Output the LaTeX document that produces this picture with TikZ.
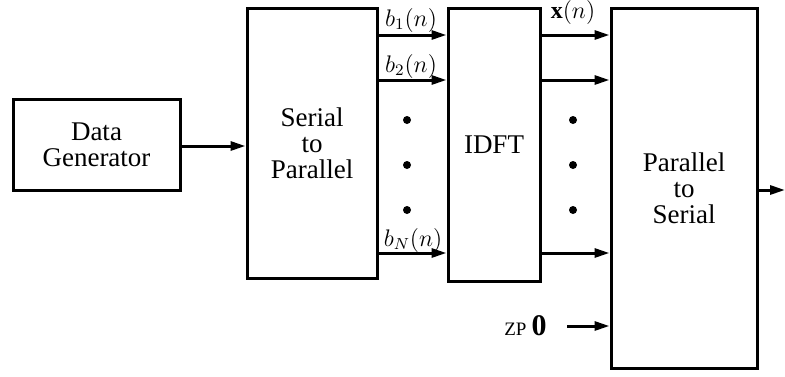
\documentclass[tikz,border=0pt]{standalone}
\usepackage{fontspec}
\setmainfont{Liberation Serif}
\usetikzlibrary{arrows.meta, positioning, calc}
\tikzset{
  every picture/.style={line width=1.5pt},
  block/.style={draw, rectangle, align=center, inner sep=2pt, font=\fontsize{13.5}{13}\selectfont},
  arrow/.style={-{Triangle[length=7.5pt, width=4.5pt]}},
  sig/.style={font=\fontsize{12}{13}\selectfont, inner sep=1pt},
  dot/.style={fill=black},
}

\begin{document}
\begin{tikzpicture}[x=0.5pt, y=-0.5pt]
  \useasboundingbox (0,0) rectangle (785,376);
  % blocks
  \node[block, minimum width=83.5pt, minimum height=45.5pt] (gen) at (96.5,144.5) {Data\\Generator};
  \node[block, minimum width=65pt, minimum height=135pt] (s2p) at (312,143.5) {Serial\\to\\Parallel};
  \node[block, minimum width=46pt, minimum height=136.5pt] (idft) at (494,144.5) {IDFT};
  \node[block, minimum width=73pt, minimum height=180pt] (p2s) at (684,188) {Parallel\\to\\Serial};
  % rows of the parallel lines
  \coordinate (r1) at (0,35);
  \coordinate (r2) at (0,80);
  \coordinate (rN) at (0,253);
  \coordinate (rin) at (0,146);
  \coordinate (rout) at (0,190);
  \coordinate (rzp) at (0,326);
  \draw[arrow] (gen.east |- rin) -- (s2p.west |- rin);
  \foreach \r in {r1, r2, rN} {
    \draw[arrow] (s2p.east |- \r) -- (idft.west |- \r);
    \draw[arrow] (idft.east |- \r) -- (p2s.west |- \r);
  }
  % signal labels
  \node[sig] (b1) at (411,20) {$b_1(n)$};
  \node[sig] (b2) at (411,66) {$b_2(n)$};
  \node[sig] (bN) at (413,240) {$b_N(n)$};
  \node[sig] (xn) at (573,12) {$\mathbf{x}(n)$};
  % dots
  \foreach \y in {120,165,210} {
    \fill[dot] (407,\y) circle (2pt);
    \fill[dot] (573,\y) circle (2pt);
  }
  % zero padding
  \node[inner sep=1pt, anchor=east] (zp) at (550,326) {{\fontsize{9.5}{10}\selectfont ZP} {\fontsize{15}{15}\selectfont$\mathbf{0}$}};
  \coordinate (zpstart) at (567,326);
  \draw[arrow] (zpstart) -- (p2s.west |- rzp);
  % output
  \coordinate (out) at (785,190);
  \draw[arrow] (p2s.east |- rout) -- (out);
\end{tikzpicture}
\end{document}
